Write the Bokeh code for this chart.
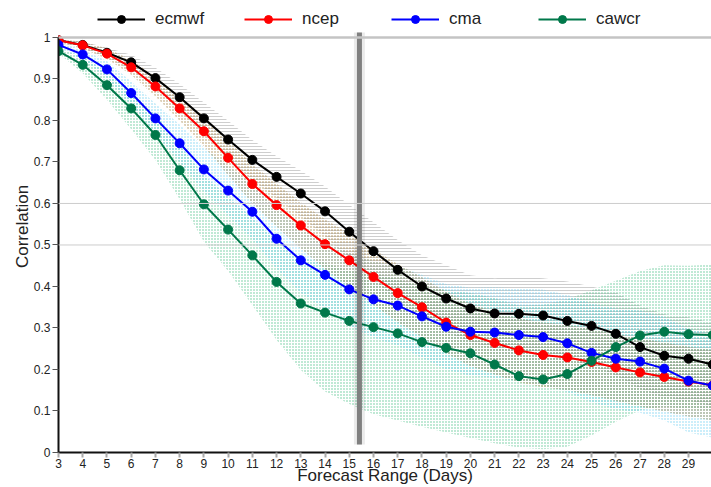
from bokeh.plotting import figure
from bokeh.models import Range1d, FixedTicker, Span, Legend, LegendItem
from bokeh.embed import file_html
from bokeh.resources import INLINE

# ---------------- data ----------------
days = list(range(3, 31))

ecmwf = [0.993, 0.982, 0.963, 0.940, 0.902, 0.856, 0.805, 0.754, 0.705, 0.664, 0.624, 0.581, 0.532, 0.485,
         0.440, 0.400, 0.371, 0.347, 0.335, 0.334, 0.330, 0.317, 0.305, 0.286, 0.254, 0.233, 0.226, 0.212]
ecmwf_hi = [0.997, 0.990, 0.975, 0.958, 0.927, 0.888, 0.843, 0.799, 0.753, 0.714, 0.679, 0.641, 0.597, 0.555,
            0.512, 0.475, 0.451, 0.427, 0.420, 0.424, 0.420, 0.412, 0.400, 0.386, 0.354, 0.333, 0.326, 0.312]
ecmwf_lo = [0.989, 0.974, 0.951, 0.922, 0.877, 0.824, 0.767, 0.709, 0.657, 0.614, 0.569, 0.521, 0.467, 0.415,
            0.368, 0.325, 0.291, 0.267, 0.250, 0.244, 0.240, 0.222, 0.210, 0.186, 0.154, 0.133, 0.126, 0.112]

ncep = [0.993, 0.981, 0.961, 0.928, 0.882, 0.829, 0.774, 0.710, 0.647, 0.596, 0.547, 0.502, 0.463, 0.423,
        0.384, 0.350, 0.313, 0.283, 0.264, 0.246, 0.235, 0.229, 0.218, 0.205, 0.193, 0.182, 0.171, 0.162]
ncep_hi = [0.997, 0.989, 0.974, 0.946, 0.906, 0.859, 0.810, 0.752, 0.694, 0.648, 0.603, 0.562, 0.527, 0.490,
           0.454, 0.422, 0.387, 0.358, 0.340, 0.323, 0.313, 0.308, 0.298, 0.286, 0.275, 0.265, 0.255, 0.247]
ncep_lo = [0.989, 0.973, 0.948, 0.910, 0.858, 0.799, 0.738, 0.668, 0.600, 0.544, 0.491, 0.442, 0.399, 0.356,
           0.314, 0.278, 0.239, 0.208, 0.188, 0.169, 0.157, 0.150, 0.138, 0.124, 0.111, 0.099, 0.087, 0.077]

cma = [0.982, 0.959, 0.923, 0.866, 0.805, 0.745, 0.682, 0.631, 0.580, 0.515, 0.463, 0.428, 0.393, 0.369,
       0.354, 0.328, 0.303, 0.291, 0.289, 0.283, 0.278, 0.263, 0.240, 0.226, 0.219, 0.202, 0.173, 0.161]
cma_hi = [0.988, 0.971, 0.943, 0.894, 0.841, 0.790, 0.735, 0.691, 0.646, 0.587, 0.541, 0.511, 0.481, 0.461,
          0.450, 0.428, 0.406, 0.397, 0.398, 0.395, 0.393, 0.380, 0.359, 0.347, 0.342, 0.327, 0.298, 0.286]
cma_lo = [0.976, 0.947, 0.903, 0.838, 0.769, 0.700, 0.629, 0.571, 0.514, 0.443, 0.385, 0.345, 0.305, 0.277,
          0.258, 0.228, 0.200, 0.185, 0.180, 0.171, 0.163, 0.146, 0.121, 0.105, 0.096, 0.077, 0.048, 0.036]

cawcr = [0.967, 0.934, 0.885, 0.829, 0.765, 0.680, 0.598, 0.537, 0.475, 0.411, 0.359, 0.337, 0.317, 0.302,
         0.287, 0.266, 0.252, 0.239, 0.212, 0.184, 0.176, 0.189, 0.221, 0.254, 0.282, 0.291, 0.285, 0.283]
cawcr_hi = [0.972, 0.954, 0.915, 0.869, 0.815, 0.740, 0.668, 0.617, 0.565, 0.511, 0.469, 0.457, 0.437, 0.432,
            0.417, 0.400, 0.392, 0.384, 0.372, 0.354, 0.356, 0.369, 0.391, 0.414, 0.437, 0.451, 0.450, 0.453]
cawcr_lo = [0.962, 0.914, 0.850, 0.779, 0.705, 0.610, 0.508, 0.437, 0.355, 0.271, 0.199, 0.147, 0.117, 0.092,
            0.077, 0.062, 0.048, 0.035, 0.022, 0.012, 0.008, 0.014, 0.041, 0.074, 0.102, 0.111, 0.105, 0.103]

y_ticks = [0, 0.1, 0.2, 0.3, 0.4, 0.5, 0.6, 0.7, 0.8, 0.9, 1]
ref_lines = [0.5, 0.6]
marker_day = 15.42

FONT = "Liberation Sans"

p = figure(width=711, height=487, x_range=Range1d(3, 29.95), y_range=Range1d(0, 1.089),
           output_backend="svg", toolbar_location=None,
           min_border_left=58, min_border_right=0, min_border_top=0, min_border_bottom=0)
p.outline_line_color = None
p.xgrid.visible = False
p.ygrid.visible = False

# confidence bands (hatched)
bands = [
    (ecmwf_lo, ecmwf_hi, "horizontal_line", "#bdbdbd", 0.75),
    (cawcr_lo, cawcr_hi, "dot", "#45c083", 0.85),
    (cma_lo, cma_hi, "dot", "#6accf0", 0.85),
    (ncep_lo, ncep_hi, "dot", "#a07e3c", 0.9),
]
for lo, hi, pat, col, a in bands:
    p.varea(x=days, y1=lo, y2=hi, fill_alpha=0, hatch_pattern=pat, hatch_color=col,
            hatch_scale=3, hatch_weight=1, hatch_alpha=a)

# reference lines
for v in ref_lines:
    p.add_layout(Span(location=v, dimension="width", line_color="#cccccc", line_width=1))
p.add_layout(Span(location=1, dimension="width", line_color="#c4c4c4", line_width=2.5))

series = [("ecmwf", ecmwf, "#000000"), ("ncep", ncep, "#ff0000"),
          ("cma", cma, "#0000ff"), ("cawcr", cawcr, "#00784a")]
items = []
for name, vals, col in series:
    l = p.line(days, vals, line_color=col, line_width=2)
    s = p.scatter(days, vals, size=9, fill_color=col, line_color=col)
    items.append(LegendItem(label=name, renderers=[l, s]))

# vertical marker bar with shadow
p.segment(x0=[marker_day], y0=[0.019], x1=[marker_day], y1=[1.012], line_color="#000000",
          line_alpha=0.08, line_width=11)
p.segment(x0=[marker_day], y0=[0.019], x1=[marker_day], y1=[1.012], line_color="#808080",
          line_width=5)

# axes
p.xaxis.ticker = FixedTicker(ticks=days)
p.yaxis.ticker = FixedTicker(ticks=y_ticks)
p.yaxis.bounds = (0, 1)
p.yaxis.major_label_overrides = {0: "0", 1: "1"}
p.xaxis.axis_label = "Forecast Range (Days)"
p.yaxis.axis_label = "Correlation"
for ax in (p.xaxis[0], p.yaxis[0]):
    ax.axis_line_color = "#111111"
    ax.axis_line_width = 2
    ax.minor_tick_line_color = None
    ax.major_tick_in = 0
    ax.major_label_text_font = FONT
    ax.major_label_text_font_size = "12px"
    ax.major_label_text_color = "#222222"
    ax.axis_label_text_font = FONT
    ax.axis_label_text_font_size = "17px"
    ax.axis_label_text_font_style = "normal"
    ax.axis_label_text_color = "#222222"
p.xaxis.major_tick_out = 5
p.xaxis.major_tick_line_color = "#aaaaaa"
p.xaxis.major_tick_line_width = 2
p.xaxis.major_label_standoff = 1
p.xaxis.axis_label_standoff = -5
p.yaxis.major_tick_out = 6
p.yaxis.major_tick_line_color = "#555555"
p.yaxis.major_label_standoff = 2
p.yaxis.axis_label_standoff = -1

legend = Legend(items=items, orientation="horizontal", location=(39, 423),
                glyph_width=48, glyph_height=20, label_standoff=10, label_width=89,
                spacing=0, padding=0, margin=0, border_line_alpha=0, background_fill_alpha=0,
                label_text_font=FONT, label_text_font_size="17px", label_text_color="#222222")
p.add_layout(legend, "center")

open("out.html", "w").write(file_html(p, INLINE))
